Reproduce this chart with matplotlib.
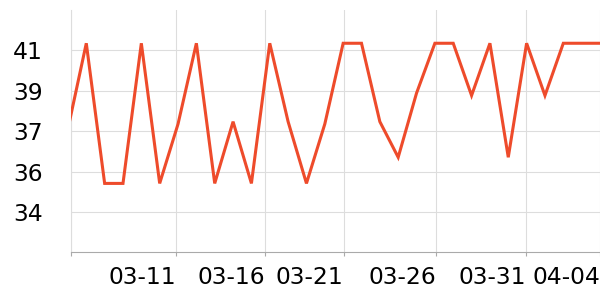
import matplotlib
matplotlib.use("Agg")
import matplotlib.pyplot as plt
import numpy as np

# Data (category index axis; one value per sample)
values = [37.5, 41.1, 35.2, 35.2, 41.1, 35.2, 37.7, 41.1, 35.2, 37.8,
          35.2, 41.1, 37.8, 35.2, 37.7, 41.1, 41.1, 37.8, 36.3, 39.0,
          41.1, 41.1, 38.9, 41.1, 36.3, 41.1, 38.9, 41.1, 41.1, 41.1]
x_tick_labels = ["", "03-11", "03-16", "03-21", "03-26", "03-31", "04-04"]
y_ticks = [34.0, 35.7, 37.4, 39.1, 40.8]

x = np.arange(len(values))

fig = plt.figure(figsize=(6, 3), dpi=100)
ax = fig.add_axes([70.7 / 600, 1 - 252.3 / 300, 1 - 70.7 / 600, (252.3 - 10) / 300])

ax.plot(x, values, color="#ee4b2b", lw=2.2, solid_joinstyle="miter", zorder=3, clip_on=True)

ax.set_xlim(0.15, 29)
ax.set_ylim(32.3, 42.5)

xt = [0.15, 5.90, 10.75, 15.03, 20.07, 24.98, 29.0]
ax.set_xticks(xt)
ax.set_xticklabels(x_tick_labels, ha="right", fontsize=16.8, color="black")
ax.set_yticks(y_ticks)
ax.set_yticklabels([f"{v:.0f}" for v in y_ticks], fontsize=16.8, color="black")

ax.grid(True, color="#dddddd", lw=0.8, zorder=0)
for s in ["top", "right"]:
    ax.spines[s].set_visible(False)
ax.spines["left"].set_color("#dddddd")
ax.spines["left"].set_linewidth(0.8)
ax.spines["bottom"].set_color("#aaaaaa")
ax.spines["bottom"].set_linewidth(0.8)

ax.tick_params(axis="y", length=0, pad=20)
ax.tick_params(axis="x", length=3, width=0.8, color="#aaaaaa", pad=7)

fig.savefig("out.png", dpi=100)
